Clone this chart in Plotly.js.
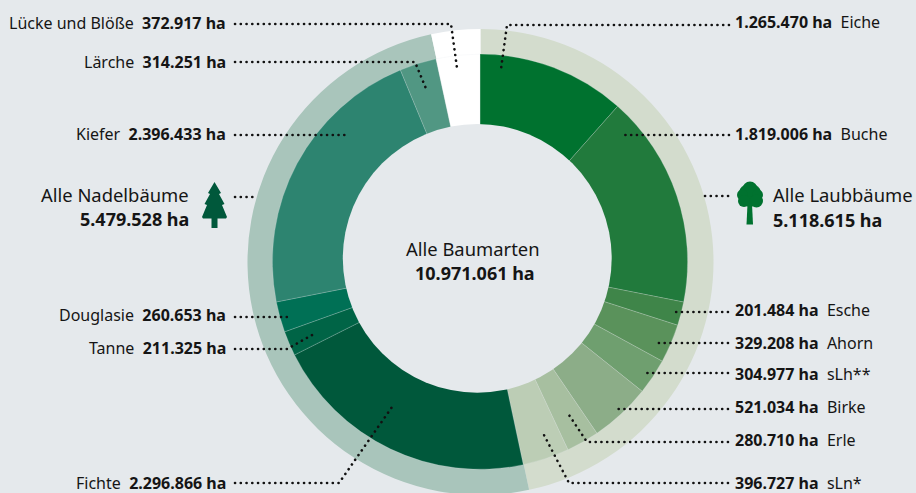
<!DOCTYPE html>
<html><head><meta charset="utf-8">
<script src="https://cdn.plot.ly/plotly-3.0.1.min.js"></script>
<style>
html,body{margin:0;padding:0;background:#e5e9ec;overflow:hidden;width:916px;height:493px}
.shapelayer path{stroke-linecap:round}
</style></head><body><div id="chart" style="width:916px;height:520px"></div>
<script>
const species=["Eiche","Buche","Esche","Ahorn","sLh**","Birke","Erle","sLn*","Fichte","Tanne","Douglasie","Kiefer","Lärche","Lücke und Blöße"];
const speciesValues=[1265470,1819006,201484,329208,304977,521034,280710,396727,2296866,211325,260653,2396433,314251,372917];
const speciesColors=["#00722f","#217a3c","#3f8549","#5a925b","#6f9f6f","#8cad88","#a7bfa0","#bccdb5","#00583b","#006446","#007055","#2d8470","#519783","#ffffff"];
const groups=["Alle Laubbäume","Alle Nadelbäume","Lücke und Blöße"];
const groupValues=[5118615,5479528,372917];
const groupColors=["#d3dccd","#a9c5bb","#ffffff"];
const totalLabel="Alle Baumarten";
const totalValue=10971061;
const W=916,H=520,BG="#e5e9ec",FONT="'Noto Sans', sans-serif";
const px=x=>x/W, py=y=>1-y/H;
const fmt=v=>String(v).replace(/\B(?=(\d{3})+(?!\d))/g,".");
const dom=(cx,cy,r)=>({x:[px(cx-r),px(cx+r)],y:[py(cy+r),py(cy-r)]});
const pieBase={type:"pie",sort:false,direction:"clockwise",rotation:0,textinfo:"none",hoverinfo:"label+value",showlegend:false};
const data=[
 {...pieBase,labels:groups,values:groupValues,marker:{colors:groupColors,line:{width:0}},domain:dom(480.5,262,233)},
 {...pieBase,labels:species,values:speciesValues,marker:{colors:speciesColors,line:{width:0.5,color:"rgba(229,233,236,0.45)"}},domain:dom(480,261.7,207.6)}
];
function path(pts){return "M"+pts.map(p=>px(p[0])+","+py(p[1])).join("L");}
function leader(pts){return {type:"path",xref:"paper",yref:"paper",path:path(pts),line:{color:"#111",width:2.6,dash:"0.1px,5.65px"},layer:"above"};}
const leaders=[
 [[235,24],[451,24],[457,68]],
 [[235,62],[415,62],[427,91]],
 [[235,135],[350,135]],
 [[235,197],[256,197]],
 [[729,25],[507,25],[501,69]],
 [[729,135],[622,135]],
 [[705,196],[730,196]],
 [[728,312],[671,312]],
 [[728,343],[658,343]],
 [[728,373],[643,373]],
 [[728,409],[613,409]],
 [[728,442],[587,442],[569,415]],
 [[728,483],[569,483],[544,435]],
 [[235,317],[292,317]],
 [[235,349],[287,349],[314,334]],
 [[235,483],[339,483],[392,407]]
].map(leader);
const conifer={type:"path",xref:"paper",yref:"paper",layer:"above",fillcolor:"#00583b",line:{width:0},
 path:path([[214.5,182],[221,193],[219,194],[224.5,204],[222,205],[227,217],[226,218.5],[217.5,218.5],[217.5,228],[211.5,228],[211.5,218.5],[203,218.5],[202,217],[207,205],[204.5,204],[210,194],[208,193]])+"Z"};
const trunk={type:"path",xref:"paper",yref:"paper",layer:"above",fillcolor:"#00722f",line:{width:0},
 path:path([[747.5,204],[752,204],[753,224.5],[746.5,224.5]])+"Z"};
const crown=[[750,195,11.5],[750,189,7.5],[742.5,195,5.5],[757.5,195,5.5],[744,201,6],[756.5,201,6.5]].map(c=>({type:"circle",xref:"paper",yref:"paper",layer:"above",fillcolor:"#00722f",line:{width:0},x0:px(c[0]-c[2]),x1:px(c[0]+c[2]),y0:py(c[1]+c[2]),y1:py(c[1]-c[2])}));
const hole={type:"circle",xref:"paper",yref:"paper",layer:"above",fillcolor:BG,line:{width:0},x0:px(342.8),x1:px(611.7),y0:py(392.7),y1:py(124)};
function ann(text,x,y,anchor,size,align){return {text,x:px(x),y:py(y),xref:"paper",yref:"paper",xanchor:anchor,yanchor:"middle",showarrow:false,align:align||anchor,borderpad:0,borderwidth:0,font:{size:size||16,family:FONT,color:"#151515"}};}
const idx=n=>species.indexOf(n);
const L=(n,y)=>ann(n+"&nbsp;&nbsp;<b>"+fmt(speciesValues[idx(n)])+" ha</b>",226,y,"right");
const R=(n,y)=>ann("<b>"+fmt(speciesValues[idx(n)])+" ha</b>&nbsp;&nbsp;"+n,735,y,"left");
const annotations=[
 L("Lücke und Blöße",23),L("Lärche",62),L("Kiefer",134),L("Douglasie",315),L("Tanne",348),L("Fichte",483),
 R("Eiche",22),R("Buche",134),R("Esche",310),R("Ahorn",343),R("sLh**",374),R("Birke",407),R("Erle",440),R("sLn*",483),
 ann(groups[1],189,194,"right",18.4),ann("<b>"+fmt(groupValues[1])+" ha</b>",189,219,"right",18),
 ann(groups[0],773,194,"left",18.4),ann("<b>"+fmt(groupValues[0])+" ha</b>",773,220,"left",18),
 ann(totalLabel,473,248,"center",18.4),ann("<b>"+fmt(totalValue)+" ha</b>",475,273,"center",18)
];
Plotly.newPlot("chart",data,{width:W,height:H,margin:{l:0,r:0,t:0,b:0},paper_bgcolor:BG,plot_bgcolor:BG,showlegend:false,shapes:[hole,...leaders,conifer,trunk,...crown],annotations},{displayModeBar:false,staticPlot:true});
</script></body></html>
